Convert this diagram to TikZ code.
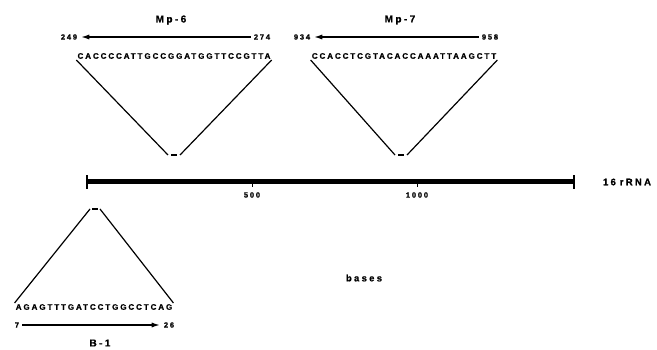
\documentclass[tikz,border=0pt]{standalone}
\usepackage{fontspec}
\setmainfont{Liberation Sans}
\newfontfamily\seqfont{Liberation Sans Bold}[FakeBold=1,LetterSpace=24]
\usepackage{tikz}
\usetikzlibrary{arrows.meta}

\tikzset{
  seq/.style={font=\seqfont\fontsize{8}{9}\selectfont, inner sep=1pt},
  num/.style={font=\seqfont\fontsize{7.5}{8}\selectfont, inner sep=3pt},
  probe/.style={font=\seqfont\fontsize{10}{11}\selectfont},
  lbl/.style={font=\seqfont\fontsize{9.5}{10}\selectfont},
  primer/.style={-{Latex[length=9pt,width=5pt]}, line width=1.8pt},
  leg/.style={line width=1.2pt}
}

\begin{document}
\begin{tikzpicture}[x=1pt,y=-1pt]
\useasboundingbox (0,0) rectangle (657,350);

% 16S rRNA scale
\coordinate (bar0) at (87,182);
\coordinate (bar1) at (574,182);
\draw[line width=5pt] (bar0) -- (bar1);
\draw[line width=1.3pt] ([yshift=-7pt]bar0) -- ([yshift=7pt]bar0);
\draw[line width=1.3pt] ([yshift=-7pt]bar1) -- ([yshift=7pt]bar1);
\foreach \b in {500,1000} {
  \pgfmathsetmacro{\xb}{87+0.33*\b}
  \draw[line width=1pt] (\xb,182) -- (\xb,187);
  \node[num] (tick\b) at (\xb,195) {\b};
}
\node[lbl] (rrna) at (627,182) {16\hspace{4pt}rRNA};
\node[lbl] (bases) at (364,278) {bases};

% Mp-6
\node[probe] (mp6) at (171,20) {Mp-6};
\node[num] (n249) at (69,37) {249};
\node[num] (n274) at (262,37) {274};
\draw[primer] (n274) -- (n249);
\node[seq] (seq6) at (174,56) {CACCCCATTGCCGGATGGTTCCGTTA};
\coordinate (tip6) at (174,155);
\draw[leg] (seq6.south west) -- ([xshift=-6pt]tip6);
\draw[leg] (seq6.south east) -- ([xshift=6pt]tip6);
\draw[leg] ([xshift=-3pt]tip6) -- ([xshift=3pt]tip6);

% Mp-7
\node[probe] (mp7) at (400,20) {Mp-7};
\node[num] (n934) at (302,37) {934};
\node[num] (n958) at (490,37) {958};
\draw[primer] (n958) -- (n934);
\node[seq] (seq7) at (404,56) {CCACCTCGTACACCAAATTAAGCTT};
\coordinate (tip7) at (401,155);
\draw[leg] (seq7.south west) -- ([xshift=-6pt]tip7);
\draw[leg] (seq7.south east) -- ([xshift=6pt]tip7);
\draw[leg] ([xshift=-3pt]tip7) -- ([xshift=3pt]tip7);

% B-1
\coordinate (tipb) at (95,209);
\node[seq] (seqb) at (94,307) {AGAGTTTGATCCTGGCCTCAG};
\draw[leg] (seqb.north west) -- ([xshift=-5pt]tipb);
\draw[leg] (seqb.north east) -- ([xshift=5pt]tipb);
\draw[leg] ([xshift=-3pt]tipb) -- ([xshift=3pt]tipb);
\node[num] (n7) at (17,325) {7};
\node[num] (n26) at (169,325) {26};
\draw[primer] (n7) -- (n26);
\node[probe] (b1) at (100,343) {B-1};

\end{tikzpicture}
\end{document}
